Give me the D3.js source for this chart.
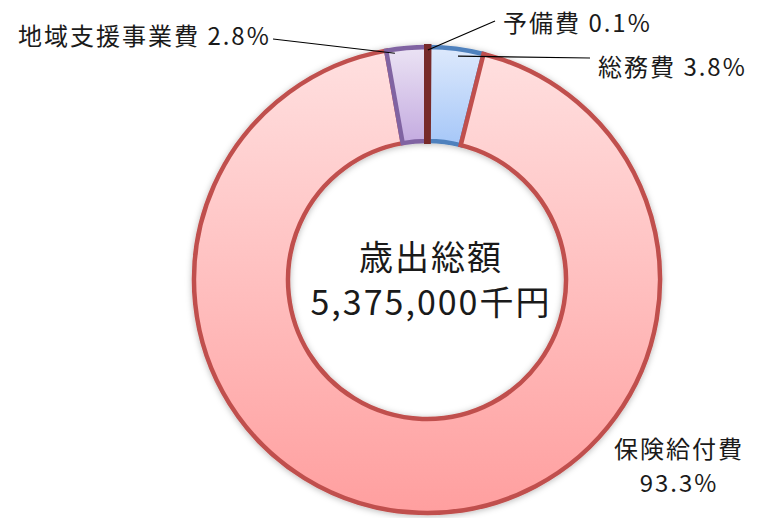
<!DOCTYPE html>
<html>
<head>
<meta charset="utf-8">
<script src="https://cdn.jsdelivr.net/npm/d3@7"></script>
<style>
body { margin: 0; background: #fff; }
svg { display: block; }
text { font-family: "Noto Sans CJK JP", "Noto Sans", sans-serif; fill: #1a1a1a; }
</style>
</head>
<body>
<script>
// data
var categories = ["総務費", "保険給付費", "地域支援事業費", "予備費"];
var shares = [3.8, 93.3, 2.8, 0.1];
var totalLabel = ["歳出総額", "5,375,000千円"];

var w = 763, h = 518;
var cx = 427, cy = 280;
var outerR = 233, innerR = 139;

var fills = {
  "総務費": ["#dde9fc", "#a6c7f8"],
  "保険給付費": ["#ffe0e0", "#ff9f9f"],
  "地域支援事業費": ["#ebe3f4", "#c4abe0"],
  "予備費": ["#9b3b38", "#772c2a"]
};
var strokes = { "総務費": "#4f81bd", "保険給付費": "#c0504d", "地域支援事業費": "#8064a2", "予備費": "#772c2a" };

// label layout: anchor fraction in slice, anchor radius, line end, text pos
var labelLayout = {
  "総務費": { t: 0.55, r: 226, end: [590, 58], x: 598, y: 76, anchor: "start", lines: ["総務費 3.8%"] },
  "保険給付費": { t: null, x: 679, y: 458, anchor: "middle", lines: ["保険給付費", "93.3%"] },
  "地域支援事業費": { t: 0.2, r: 229, end: [273, 39], x: 18, y: 45, anchor: "start", lines: ["地域支援事業費 2.8%"] },
  "予備費": { t: 0.6, r: 230, end: [495, 21], x: 503, y: 32, anchor: "start", lines: ["予備費 0.1%"] }
};

var svg = d3.select("body").append("svg").attr("width", w).attr("height", h);
var defs = svg.append("defs");

var f = defs.append("filter").attr("id", "shadow").attr("x", "-10%").attr("y", "-10%").attr("width", "120%").attr("height", "120%");
f.append("feDropShadow").attr("dx", 0).attr("dy", 1).attr("stdDeviation", 3)
  .attr("flood-color", "#000").attr("flood-opacity", 0.28);

// order slices clockwise from 12: 予備費, 総務費, 保険給付費, 地域支援事業費
var order = [3, 0, 1, 2];
var arcsData = d3.pie().sort(null).value(i => shares[i]).startAngle(0)(order);

var arc = d3.arc().innerRadius(innerR).outerRadius(outerR);

arcsData.forEach(function(a) {
  var name = categories[a.data];
  // gradient over slice bounds (coords relative to ring centre)
  var pts = [];
  for (var k = 0; k <= 40; k++) {
    var ang = a.startAngle + (a.endAngle - a.startAngle) * k / 40;
    pts.push(-outerR * Math.cos(ang), -innerR * Math.cos(ang));
  }
  var y0 = d3.min(pts), y1 = d3.max(pts);
  if (a.endAngle - a.startAngle > Math.PI) { y0 = -outerR; y1 = outerR; }
  var g = defs.append("linearGradient").attr("id", "grad" + a.data)
    .attr("gradientUnits", "userSpaceOnUse")
    .attr("x1", 0).attr("x2", 0).attr("y1", y0).attr("y2", y1);
  g.append("stop").attr("offset", "0%").attr("stop-color", fills[name][0]);
  g.append("stop").attr("offset", "100%").attr("stop-color", fills[name][1]);
});

var ring = svg.append("g").attr("transform", `translate(${cx},${cy})`).attr("filter", "url(#shadow)");

// draw order: 総務費, 保険給付費, 地域支援事業費, then 予備費 on top
var drawOrder = arcsData.slice().sort((a, b) => (a.data === 3) - (b.data === 3) || a.data - b.data);
ring.selectAll("path").data(drawOrder).join("path")
  .attr("d", arc)
  .attr("fill", d => "url(#grad" + d.data + ")")
  .attr("stroke", d => strokes[categories[d.data]])
  .attr("stroke-width", d => d.data === 3 ? 6 : 4.5)
  .attr("stroke-linejoin", "miter");

// leader lines and labels
var lab = svg.append("g");
arcsData.forEach(function(a) {
  var name = categories[a.data];
  var L = labelLayout[name];
  if (L.t !== null) {
    var ang = a.startAngle + (a.endAngle - a.startAngle) * L.t;
    var sx = cx + L.r * Math.sin(ang), sy = cy - L.r * Math.cos(ang);
    lab.append("line").attr("x1", sx).attr("y1", sy).attr("x2", L.end[0]).attr("y2", L.end[1])
      .attr("stroke", "#000").attr("stroke-width", 1.2);
  }
  L.lines.forEach(function(s, i) {
    lab.append("text").attr("x", L.x).attr("y", L.y + i * 34)
      .attr("text-anchor", L.anchor)
      .style("font-size", "24px").style("letter-spacing", "2px")
      .text(s);
  });
});

// center text
svg.append("text").attr("x", cx + 4).attr("y", 270).attr("text-anchor", "middle")
  .style("font-size", "34px").style("letter-spacing", "2px").text(totalLabel[0]);
svg.append("text").attr("x", cx + 4).attr("y", 315).attr("text-anchor", "middle")
  .style("font-size", "34px").style("letter-spacing", "2px").text(totalLabel[1]);
</script>
</body>
</html>
